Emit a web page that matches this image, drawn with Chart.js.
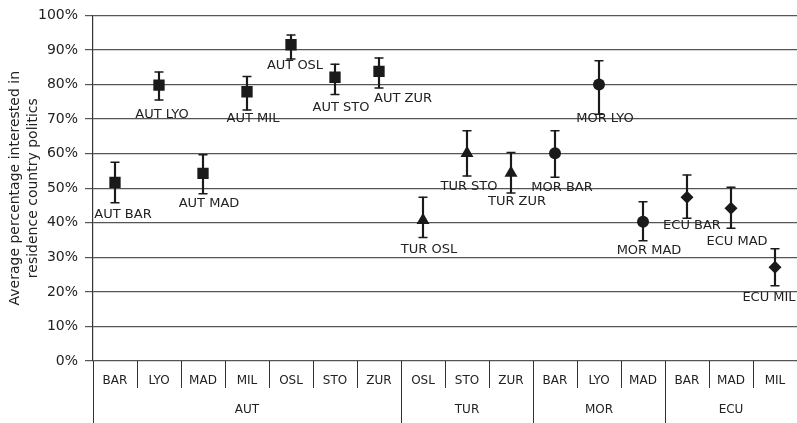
<!DOCTYPE html>
<html>
<head>
<meta charset="utf-8">
<script src="https://cdn.jsdelivr.net/npm/chart.js@4/dist/chart.umd.min.js"></script>
<style>
  html, body { margin: 0; padding: 0; background: #fff; }
  canvas { display: block; }
</style>
</head>
<body>
<canvas id="c" width="797" height="423"></canvas>
<script>
// ---- data ----
const categories = ['BAR','LYO','MAD','MIL','OSL','STO','ZUR','OSL','STO','ZUR','BAR','LYO','MAD','BAR','MAD','MIL'];
const groups = ['AUT','AUT','AUT','AUT','AUT','AUT','AUT','TUR','TUR','TUR','MOR','MOR','MOR','ECU','ECU','ECU'];
const values = [51.7, 79.8, 54.3, 77.9, 91.5, 82.1, 83.8, 40.7, 60.1, 54.4, 60.1, 80.0, 40.3, 47.4, 44.2, 27.1];
const upper  = [57.5, 83.6, 59.7, 82.3, 94.3, 85.9, 87.7, 47.4, 66.6, 60.3, 66.6, 86.9, 46.1, 53.8, 50.3, 32.5];
const lower  = [45.8, 75.5, 48.4, 72.6, 87.4, 77.1, 79.0, 35.7, 53.5, 48.6, 53.2, 71.4, 34.8, 41.3, 38.4, 21.8];
const yTickStep = 10;
const yTitle = ['Average percentage interested in', 'residence country politics'];

// ---- styling (not data) ----
const markerStyle = { AUT: ['rect', 8], TUR: ['triangle', 7.5], MOR: ['circle', 6], ECU: ['rectRot', 6.5] };
const labelOffsets = [[8,32],[3,29],[6,30],[6,27],[4,21],[6,30],[24,27],[6,29],[2,33],[6,29],[7,34],[6,34],[6,29],[5,28],[6,33],[-6,30]];
const INK = '#1a1a1a';
const TEXT = '#222';
const FONT = 'DejaVu Sans';

// group row labels: name placed at middle category of each group; boundaries at group starts
const groupRow = categories.map(() => '');
const boundaries = [];
{
  let i = 0;
  while (i < groups.length) {
    let j = i;
    while (j < groups.length && groups[j] === groups[i]) j++;
    boundaries.push(i);
    groupRow[i + Math.floor((j - i) / 2)] = groups[i];
    i = j;
  }
}

const pointLabels = {
  id: 'pointLabels',
  afterDatasetsDraw(chart) {
    const meta = chart.getDatasetMeta(3);
    const ctx = chart.ctx;
    ctx.save();
    ctx.font = '13px "' + FONT + '"';
    ctx.fillStyle = TEXT;
    ctx.textAlign = 'center';
    ctx.textBaseline = 'middle';
    meta.data.forEach((el, i) => {
      const off = labelOffsets[i];
      ctx.fillText(groups[i] + ' ' + categories[i], el.x + off[0], el.y + off[1]);
    });
    ctx.restore();
  }
};

Chart.defaults.font.family = FONT;
Chart.defaults.color = TEXT;

new Chart(document.getElementById('c'), {
  data: {
    labels: categories,
    datasets: [
      { // error bar stems
        type: 'bar',
        data: values.map((v, i) => [lower[i], upper[i]]),
        backgroundColor: INK,
        barThickness: 1.5,
        order: 3
      },
      { // upper caps
        type: 'line',
        data: upper,
        showLine: false,
        pointStyle: 'line',
        pointRadius: 4.5,
        pointBorderWidth: 1.5,
        pointBorderColor: INK,
        order: 2
      },
      { // lower caps
        type: 'line',
        data: lower,
        showLine: false,
        pointStyle: 'line',
        pointRadius: 4.5,
        pointBorderWidth: 1.5,
        pointBorderColor: INK,
        order: 2
      },
      { // markers
        type: 'line',
        data: values,
        showLine: false,
        pointStyle: groups.map(g => markerStyle[g][0]),
        pointRadius: groups.map(g => markerStyle[g][1]),
        pointBackgroundColor: INK,
        pointBorderColor: INK,
        pointBorderWidth: 0,
        order: 1
      }
    ]
  },
  options: {
    responsive: false,
    animation: false,
    layout: { autoPadding: false, padding: { top: 13, right: 0, bottom: 0, left: 0 } },
    plugins: { legend: { display: false }, tooltip: { enabled: false } },
    scales: {
      y: {
        type: 'linear',
        min: 0, max: 100,
        afterFit: s => { s.width = 93; },
        ticks: { stepSize: yTickStep, padding: 7, color: TEXT, font: { size: 14 }, callback: v => v + '%' },
        grid: { color: '#555', lineWidth: 1.2, tickLength: 8 },
        border: { display: true, color: '#333', width: 1.2 },
        title: { display: true, text: yTitle, color: TEXT, font: { size: 14, lineHeight: 18 / 14 }, padding: { top: 6, bottom: 0 } }
      },
      x: {
        type: 'category',
        position: 'bottom',
        weight: 1,
        offset: true,
        afterFit: s => { s.height = 27; },
        ticks: { padding: -14.2, autoSkip: false, maxRotation: 0, color: TEXT, font: { size: 12 } },
        grid: {
          offset: true, drawOnChartArea: false, tickLength: 27, lineWidth: 1,
          color: c => (c.index >= categories.length ? 'rgba(0,0,0,0)' : '#333')
        },
        border: { display: false }
      },
      x2: {
        type: 'category',
        position: 'bottom',
        weight: 2,
        offset: true,
        labels: groupRow,
        afterFit: s => { s.height = 35; },
        ticks: { padding: -20.2, autoSkip: false, maxRotation: 0, color: TEXT, font: { size: 12 } },
        grid: {
          offset: true, drawOnChartArea: false, tickLength: 35, lineWidth: 1,
          color: c => (boundaries.includes(c.index) ? '#333' : 'rgba(0,0,0,0)')
        },
        border: { display: false }
      }
    }
  },
  plugins: [pointLabels]
});
</script>
</body>
</html>
